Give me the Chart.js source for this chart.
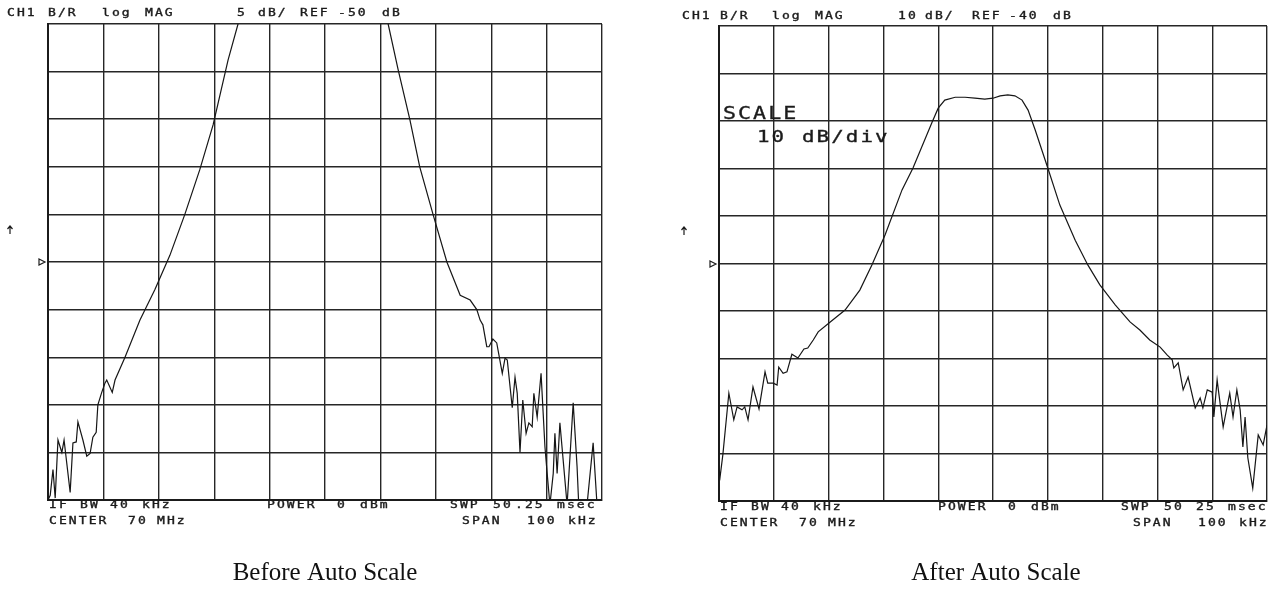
<!DOCTYPE html>
<html>
<head>
<meta charset="utf-8">
<script src="https://cdn.jsdelivr.net/npm/chart.js@4.4.1/dist/chart.umd.min.js"></script>
<style>
  html, body { margin: 0; padding: 0; background: #fff; }
  body { width: 1274px; height: 596px; position: relative; overflow: hidden; }
  canvas { position: absolute; top: 0; }
  #before { left: 0; }
  #after { left: 650px; }
</style>
</head>
<body>
<canvas id="before" width="650" height="596"></canvas>
<canvas id="after" width="624" height="596"></canvas>
<script>
// frequency offset from 70 MHz center, kHz (span 100 kHz)
const freqMin = -50, freqMax = 50, freqStep = 10;

// Before Auto Scale: 5 dB/div, REF -50 dB at center line
const beforeMin = -75, beforeMax = -25, beforeStep = 5;
const beforeFreq = [
  -50.0, -49.6, -49.1, -48.7, -48.2, -47.5, -47.1, -46.0, -45.5, -44.9,
  -44.6, -43.7, -43.0, -42.4, -41.9, -41.3, -41.0, -40.3, -39.7, -39.4,
  -38.4, -37.9, -36.1, -33.4, -30.7, -28.0, -25.3, -22.6, -20.2, -17.5,
  -15.7, -12.0, -5.0, 5.0, 9.5, 11.4, 13.2, 15.3, 17.1, 19.5,
  22.0, 24.4, 26.2, 27.4, 28.0, 28.5, 29.2, 29.6, 30.3, 31.0,
  32.0, 32.5, 32.9, 33.8, 34.3, 34.7, 35.2, 35.7, 36.3, 36.8,
  37.4, 37.7, 38.3, 39.0, 39.7, 40.1, 40.6, 41.2, 41.5, 41.9,
  42.4, 43.7, 44.8, 45.5, 45.8, 47.3, 48.4, 49.1
];
const beforeDb = [
  -75.0, -74.5, -71.8, -74.8, -68.7, -70.0, -68.7, -74.2, -69.0, -68.9,
  -66.8, -68.7, -70.4, -70.1, -68.4, -67.9, -65.0, -63.7, -62.7, -62.4,
  -63.7, -62.4, -60.0, -56.1, -52.9, -49.3, -45.0, -40.3, -35.6, -28.8,
  -25.0, -18.0, -14.0, -14.0, -20.0, -25.0, -29.8, -35.0, -40.0, -45.0,
  -50.0, -53.5, -54.0, -55.0, -56.1, -56.6, -58.9, -58.9, -58.1, -58.5,
  -61.7, -60.1, -60.3, -65.3, -62.1, -63.8, -70.0, -64.5, -68.0, -66.9,
  -67.3, -63.8, -66.3, -61.7, -69.4, -72.2, -75.5, -72.2, -68.0, -72.2,
  -66.9, -75.5, -64.8, -71.5, -75.5, -75.5, -69.0, -75.5
];

// After Auto Scale: 10 dB/div, REF -40 dB at center line
const afterMin = -90, afterMax = 10, afterStep = 10;
const afterFreq = [
  -50.0, -49.8, -49.3, -48.2, -47.3, -46.7, -45.8, -45.3, -44.7, -43.8,
  -42.7, -41.6, -41.1, -40.1, -39.4, -39.1, -38.3, -37.6, -36.7, -35.6,
  -34.5, -33.8, -32.8, -31.9, -29.7, -27.0, -24.3, -22.1, -19.7, -16.6,
  -14.6, -11.1, -10.0, -8.8, -6.9, -5.1, -3.3, -1.5, 0.0, 1.3,
  2.7, 4.0, 5.3, 6.4, 7.7, 10.0, 12.2, 15.0, 17.3, 19.5,
  22.3, 25.0, 26.8, 28.6, 30.5, 31.8, 32.7, 33.0, 33.8, 34.7,
  35.6, 36.9, 37.8, 38.3, 39.1, 40.0, 40.3, 40.9, 41.2, 42.0,
  43.2, 43.8, 44.5, 45.1, 45.6, 46.0, 46.5, 47.4, 48.4, 49.3, 50.0
];
const afterDb = [
  -83.5, -84.9, -80.3, -67.3, -72.9, -70.2, -70.8, -70.2, -72.9, -66.0,
  -70.6, -62.8, -65.2, -65.2, -65.6, -61.8, -63.1, -62.8, -59.1, -59.9,
  -58.0, -57.8, -56.1, -54.4, -52.3, -49.8, -45.6, -40.3, -34.0, -24.5,
  -19.9, -10.2, -7.3, -5.6, -5.0, -5.0, -5.2, -5.4, -5.2, -4.7,
  -4.5, -4.7, -5.6, -7.7, -11.9, -19.9, -27.7, -35.1, -40.3, -44.5,
  -48.7, -52.3, -54.0, -56.1, -57.6, -59.3, -60.3, -62.0, -60.9, -66.6,
  -63.9, -70.4, -68.3, -70.4, -66.6, -67.1, -72.3, -64.5, -67.3, -74.4,
  -67.3, -72.3, -66.6, -70.8, -78.6, -72.3, -80.9, -87.3, -76.1, -78.2, -74.0
];

const INK = '#1b1b1b';

function token(ctx, str, x, y, size, sx, gap) {
  ctx.save();
  ctx.translate(x, y);
  ctx.scale(sx, 1);
  ctx.font = size + 'px "DejaVu Sans Mono"';
  ctx.letterSpacing = gap + 'px';
  ctx.textBaseline = 'middle';
  ctx.fillStyle = INK;
  ctx.strokeStyle = INK;
  ctx.lineWidth = 0.35;
  ctx.fillText(str, 0, 0);
  ctx.strokeText(str, 0, 0);
  ctx.restore();
}

// annotation text, positions in page pixels
const beforeText = [
  ['CH1', 7, 13.5], ['B/R', 48, 13.5], ['log', 102, 13.5], ['MAG', 145, 13.5],
  ['5', 237, 13.5], ['dB/', 258, 13.5], ['REF', 300, 13.5], ['-50', 338, 13.5], ['dB', 382, 13.5],
  ['IF', 49, 505], ['BW', 80, 505], ['40', 110, 505], ['kHz', 142, 505],
  ['POWER', 267, 505], ['0', 337, 505], ['dBm', 360, 505],
  ['SWP', 450, 505], ['50', 493, 505], ['.25', 515, 505], ['msec', 557, 505],
  ['CENTER', 49, 521], ['70', 128, 521], ['MHz', 157, 521],
  ['SPAN', 462, 521], ['100', 527, 521], ['kHz', 568, 521]
];
const afterText = [
  ['CH1', 682, 16], ['B/R', 720, 16], ['log', 772, 16], ['MAG', 815, 16],
  ['10', 898, 16], ['dB/', 925, 16], ['REF', 972, 16], ['-40', 1009, 16], ['dB', 1053, 16],
  ['IF', 720, 507], ['BW', 751, 507], ['40', 781, 507], ['kHz', 813, 507],
  ['POWER', 938, 507], ['0', 1008, 507], ['dBm', 1031, 507],
  ['SWP', 1121, 507], ['50', 1164, 507], ['25', 1196, 507], ['msec', 1228, 507],
  ['CENTER', 720, 523], ['70', 799, 523], ['MHz', 828, 523],
  ['SPAN', 1133, 523], ['100', 1198, 523], ['kHz', 1239, 523]
];

function annotate(items, offset, extra) {
  return {
    id: 'annotate',
    afterDraw(chart) {
      const ctx = chart.ctx;
      items.forEach(t => token(ctx, t[0], t[1] - offset, t[2], 10, 1.3, 1.6));
      if (extra) extra(ctx, offset);
    }
  };
}

function markers(ax, ay, tx, ty) {
  return (ctx, off) => {
    ctx.save();
    ctx.strokeStyle = INK;
    ctx.fillStyle = INK;
    ctx.lineWidth = 1.2;
    // small up arrow
    ctx.beginPath();
    ctx.moveTo(ax - off, ay + 4); ctx.lineTo(ax - off, ay - 4);
    ctx.moveTo(ax - off - 2.5, ay - 1); ctx.lineTo(ax - off, ay - 4); ctx.lineTo(ax - off + 2.5, ay - 1);
    ctx.stroke();
    // reference position triangle
    ctx.beginPath();
    ctx.moveTo(tx - off - 3, ty - 3); ctx.lineTo(tx - off + 3, ty); ctx.lineTo(tx - off - 3, ty + 3); ctx.closePath();
    ctx.stroke();
    ctx.restore();
  };
}

function caption(ctx, text, x) {
  ctx.save();
  ctx.font = '25px "Liberation Serif"';
  ctx.fillStyle = '#111';
  ctx.textAlign = 'center';
  ctx.textBaseline = 'middle';
  ctx.fillText(text, x, 573);
  ctx.restore();
}

function makeChart(id, freq, db, yMin, yMax, yStep, pad, plugin) {
  const pts = freq.map((f, i) => ({ x: f, y: db[i] }));
  return new Chart(document.getElementById(id), {
    type: 'line',
    data: {
      datasets: [{
        data: pts,
        borderColor: '#161616',
        borderWidth: 1.2,
        pointRadius: 0,
        tension: 0,
        fill: false
      }]
    },
    options: {
      responsive: false,
      animation: false,
      devicePixelRatio: 1,
      layout: { padding: pad },
      plugins: { legend: { display: false }, tooltip: { enabled: false } },
      scales: {
        x: {
          type: 'linear', min: freqMin, max: freqMax,
          ticks: { display: false, stepSize: freqStep },
          grid: { color: '#262626', lineWidth: 1.4, drawTicks: false },
          border: { display: true, color: '#1b1b1b', width: 2 }
        },
        y: {
          min: yMin, max: yMax,
          ticks: { display: false, stepSize: yStep },
          grid: { color: '#262626', lineWidth: 1.4, drawTicks: false },
          border: { display: true, color: '#1b1b1b', width: 2 }
        }
      }
    },
    plugins: [plugin]
  });
}

makeChart('before', beforeFreq, beforeDb, beforeMin, beforeMax, beforeStep,
  { left: 48, right: 48, top: 24, bottom: 96 },
  annotate(beforeText, 0, (ctx, off) => {
    markers(10, 230, 42, 262)(ctx, off);
    caption(ctx, 'Before Auto Scale', 325);
  }));

makeChart('after', afterFreq, afterDb, afterMin, afterMax, afterStep,
  { left: 69, right: 7, top: 26, bottom: 95 },
  annotate(afterText, 650, (ctx, off) => {
    markers(684, 231, 713, 264)(ctx, off);
    token(ctx, 'SCALE', 723 - off, 114, 18, 1.2, 1.7);
    token(ctx, '10', 757 - off, 138, 16, 1.3, 1.6);
    token(ctx, 'dB/div', 802 - off, 138, 16, 1.3, 1.6);
    caption(ctx, 'After Auto Scale', 996 - off);
  }));
</script>
</body>
</html>
